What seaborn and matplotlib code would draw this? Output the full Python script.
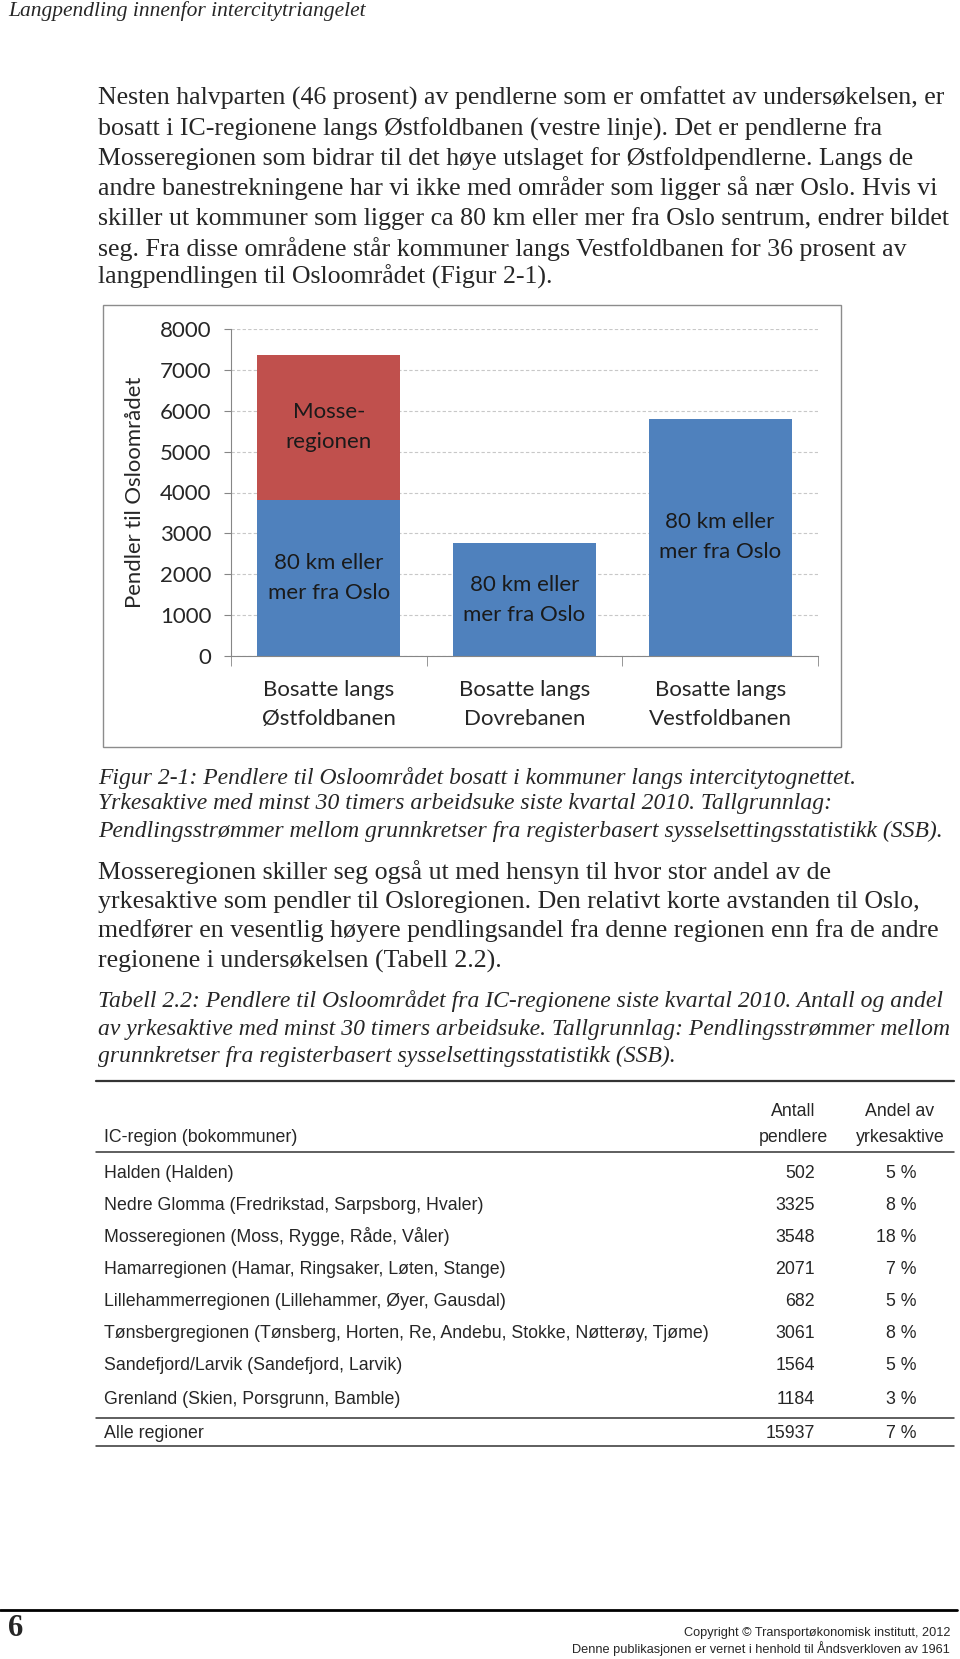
import matplotlib
matplotlib.use('Agg')
import pandas as pd
import matplotlib.pyplot as plt
from matplotlib.lines import Line2D
from matplotlib.patches import Rectangle
import seaborn as sns

# chart data
baner = ['Bosatte langs\nØstfoldbanen', 'Bosatte langs\nDovrebanen', 'Bosatte langs\nVestfoldbanen']
km80 = [3827, 2753, 5809]
mosse = [3548, 0, 0]

# table data
regioner = ['Halden (Halden)',
            'Nedre Glomma (Fredrikstad, Sarpsborg, Hvaler)',
            'Mosseregionen (Moss, Rygge, Råde, Våler)',
            'Hamarregionen (Hamar, Ringsaker, Løten, Stange)',
            'Lillehammerregionen (Lillehammer, Øyer, Gausdal)',
            'Tønsbergregionen (Tønsberg, Horten, Re, Andebu, Stokke, Nøtterøy, Tjøme)',
            'Sandefjord/Larvik (Sandefjord, Larvik)',
            'Grenland (Skien, Porsgrunn, Bamble)']
antall = [502, 3325, 3548, 2071, 682, 3061, 1564, 1184]
andel = ['5 %', '8 %', '18 %', '7 %', '5 %', '8 %', '5 %', '3 %']
total_antall = 15937
total_andel = '7 %'

para1 = ['Nesten halvparten (46 prosent) av pendlerne som er omfattet av undersøkelsen, er',
         'bosatt i IC-regionene langs Østfoldbanen (vestre linje). Det er pendlerne fra',
         'Mosseregionen som bidrar til det høye utslaget for Østfoldpendlerne. Langs de',
         'andre banestrekningene har vi ikke med områder som ligger så nær Oslo. Hvis vi',
         'skiller ut kommuner som ligger ca 80 km eller mer fra Oslo sentrum, endrer bildet',
         'seg. Fra disse områdene står kommuner langs Vestfoldbanen for 36 prosent av',
         'langpendlingen til Osloområdet (Figur 2-1).']
figurtekst = ['Figur 2-1: Pendlere til Osloområdet bosatt i kommuner langs intercitytognettet.',
              'Yrkesaktive med minst 30 timers arbeidsuke siste kvartal 2010. Tallgrunnlag:',
              'Pendlingsstrømmer mellom grunnkretser fra registerbasert sysselsettingsstatistikk (SSB).']
para2 = ['Mosseregionen skiller seg også ut med hensyn til hvor stor andel av de',
         'yrkesaktive som pendler til Osloregionen. Den relativt korte avstanden til Oslo,',
         'medfører en vesentlig høyere pendlingsandel fra denne regionen enn fra de andre',
         'regionene i undersøkelsen (Tabell 2.2).']
tabelltekst = ['Tabell 2.2: Pendlere til Osloområdet fra IC-regionene siste kvartal 2010. Antall og andel',
               'av yrkesaktive med minst 30 timers arbeidsuke. Tallgrunnlag: Pendlingsstrømmer mellom',
               'grunnkretser fra registerbasert sysselsettingsstatistikk (SSB).']

W, H = 960, 1659
blue = '#4F81BD'
red = '#C0504D'
grey = '#868686'
serif = ['Liberation Serif', 'DejaVu Serif']
chartfont = ['Lato', 'DejaVu Sans']
narrow = ['Liberation Sans', 'DejaVu Sans']

sns.set_style("white")
plt.rcParams['font.family'] = serif

fig = plt.figure(figsize=(W / 100, H / 100), dpi=100)
renderer = fig.canvas.get_renderer()


def fx(x):
    return x / W


def fy(y):
    return 1 - y / H


def size_for(s, width, **kw):
    t = fig.text(0, 0, s, fontsize=20, **kw)
    w = t.get_window_extent(renderer).width
    t.remove()
    return 20 * width / w


def put(x, y, s, size, **kw):
    kw.setdefault('va', 'center')
    return fig.text(fx(x), fy(y), s, fontsize=size, **kw)


def rule(x0, x1, y, lw, color='#333333'):
    fig.add_artist(Line2D([fx(x0), fx(x1)], [fy(y), fy(y)], lw=lw, color=color,
                          transform=fig.transFigure))


# header
put(8, 11, 'Langpendling innenfor intercitytriangelet',
    size_for('Langpendling innenfor intercitytriangelet', 358, style='italic'), style='italic')

# body text
s1 = size_for(para1[0], 846)
for line, y in zip(para1, [98, 129, 159, 188, 219, 249, 277]):
    put(98, y, line, s1)

s2 = size_for(figurtekst[2], 842, style='italic')
for line, y in zip(figurtekst, [778, 804, 831]):
    put(98, y, line, s2, style='italic')

for line, y in zip(para2, [872, 902, 931, 961]):
    put(98, y, line, s1)

for line, y in zip(tabelltekst, [1001, 1029, 1056]):
    put(98, y, line, s2, style='italic')

# chart frame
fig.add_artist(Rectangle((fx(103), fy(747)), (841 - 103) / W, (747 - 305) / H,
                         fill=False, edgecolor='#8c8c8c', lw=1, transform=fig.transFigure))

cs = size_for('Bosatte langs', 131, family=chartfont)

ax = fig.add_axes([fx(231), fy(656), (818 - 231) / W, (656 - 329) / H])
df = pd.DataFrame({'bane': baner, 'km80': km80,
                   'total': [a + b for a, b in zip(km80, mosse)]})
sns.barplot(data=df, x='bane', y='total', color=red, width=0.73, saturation=1,
            linewidth=0, ax=ax)
sns.barplot(data=df, x='bane', y='km80', color=blue, width=0.73, saturation=1,
            linewidth=0, ax=ax)
ax.set_xlim(-0.5, 2.5)
ax.set_ylim(0, 8000)
ax.set_yticks(range(0, 8001, 1000))
ax.yaxis.grid(True, linestyle=(0, (3, 2)), color='#c8c8c8', lw=0.8)
ax.set_axisbelow(True)
for side in ['top', 'right']:
    ax.spines[side].set_visible(False)
for side in ['left', 'bottom']:
    ax.spines[side].set_color(grey)
ax.tick_params(axis='y', length=5, color=grey, pad=9, labelsize=cs, direction='out', left=True)
ax.tick_params(axis='x', which='major', length=0, pad=17, labelsize=cs)
ax.set_xticks([-0.5, 0.5, 1.5, 2.5], minor=True)
ax.tick_params(axis='x', which='minor', length=7, color=grey, direction='out', bottom=True)
for lab in ax.get_xticklabels() + ax.get_yticklabels():
    lab.set_family(chartfont)
    lab.set_linespacing(1.6)
ax.set_xlabel('')
ax.set_ylabel('Pendler til Osloområdet', family=chartfont,
              fontsize=size_for('Pendler til Osloområdet', 232, family=chartfont))
ax.yaxis.label.set_va('center')
ax.yaxis.set_label_coords(-0.164, 0.5)

for i, (b, m) in enumerate(zip(km80, mosse)):
    ax.text(i, b / 2, '80 km eller\nmer fra Oslo', ha='center', va='center',
            fontsize=cs, family=chartfont, linespacing=1.6, color='#1a1a1a')
    if m > 0:
        ax.text(i, b + m / 2, 'Mosse-\nregionen', ha='center', va='center',
                fontsize=cs, family=chartfont, linespacing=1.6, color='#1a1a1a')

# table
ts = size_for(regioner[5], 604, family=narrow)
rule(96, 954, 1081, 1.6)
put(104, 1137, 'IC-region (bokommuner)', ts, family=narrow)
put(793, 1112, 'Antall', ts, family=narrow, ha='center')
put(793, 1137, 'pendlere', ts, family=narrow, ha='center')
put(900, 1112, 'Andel av', ts, family=narrow, ha='center')
put(900, 1137, 'yrkesaktive', ts, family=narrow, ha='center')
rule(96, 954, 1152, 1.1)
for name, n, p, y in zip(regioner, antall, andel, [1173, 1205, 1237, 1269, 1302, 1334, 1366, 1399]):
    put(104, y, name, ts, family=narrow)
    put(815, y, str(n), ts, family=narrow, ha='right')
    put(916, y, p, ts, family=narrow, ha='right')
rule(96, 954, 1418, 1.1)
put(104, 1433, 'Alle regioner', ts, family=narrow)
put(815, 1433, str(total_antall), ts, family=narrow, ha='right')
put(916, 1433, total_andel, ts, family=narrow, ha='right')
rule(96, 954, 1446, 1.1)

# footer
rule(0, 957, 1610, 2.0, color='#000000')
put(8, 1628, '6', 22, weight='bold')
fs = size_for('Denne publikasjonen er vernet i henhold til Åndsverkloven av 1961', 378, family=narrow)
put(950, 1633, 'Copyright © Transportøkonomisk institutt, 2012', fs, family=narrow, ha='right')
put(950, 1649, 'Denne publikasjonen er vernet i henhold til Åndsverkloven av 1961', fs,
    family=narrow, ha='right')

fig.savefig('out.png', dpi=100, facecolor='white')
